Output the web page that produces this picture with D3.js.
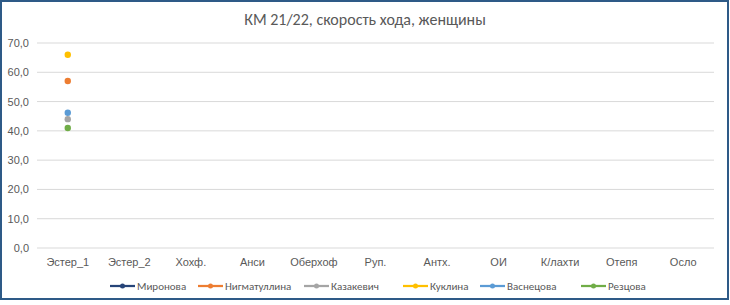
<!DOCTYPE html>
<html>
<head>
<meta charset="utf-8">
<script src="https://cdn.jsdelivr.net/npm/d3@7"></script>
<style>
  body { margin: 0; background: #fff; }
  svg { display: block; font-family: Calibri, Carlito, "Liberation Sans", "DejaVu Sans", sans-serif; }
</style>
</head>
<body>
<svg id="drawing_region"></svg>
<script>
const categories = ["Эстер_1", "Эстер_2", "Хохф.", "Анси", "Оберхоф", "Руп.", "Антх.", "ОИ", "К/лахти", "Отепя", "Осло"];
const seriesNames = ["Миронова", "Нигматуллина", "Казакевич", "Куклина", "Васнецова", "Резцова"];
const seriesColors = ["#264478", "#ED7D31", "#A5A5A5", "#FFC000", "#5B9BD5", "#70AD47"];
const mironova     = [null, null, null, null, null, null, null, null, null, null, null];
const nigmatullina = [57.0, null, null, null, null, null, null, null, null, null, null];
const kazakevich   = [44.0, null, null, null, null, null, null, null, null, null, null];
const kuklina      = [66.0, null, null, null, null, null, null, null, null, null, null];
const vasnetsova   = [46.2, null, null, null, null, null, null, null, null, null, null];
const reztsova     = [41.0, null, null, null, null, null, null, null, null, null, null];
const yTicks = [0, 10, 20, 30, 40, 50, 60, 70];

const seriesValues = [mironova, nigmatullina, kazakevich, kuklina, vasnetsova, reztsova];

const config = {
    width: 730,
    height: 305,
    margin: {top: 43, right: 16, bottom: 57, left: 37}
};

const svg = d3.select('#drawing_region')
    .attr('width', config.width)
    .attr('height', config.height);

// chart frame
svg.append('rect')
    .attr('x', 1).attr('y', 1)
    .attr('width', 727).attr('height', 298)
    .attr('fill', '#fff')
    .attr('stroke', '#2E5A87')
    .attr('stroke-width', 2);

const innerW = config.width - config.margin.left - config.margin.right;
const innerH = config.height - config.margin.top - config.margin.bottom;

const g = svg.append('g')
    .attr('transform', `translate(${config.margin.left}, ${config.margin.top})`);

const x = d3.scaleBand()
    .domain(categories)
    .range([0, innerW]);

const y = d3.scaleLinear()
    .domain([0, 70])
    .range([innerH, 0]);

const fmt = d => d3.format('.1f')(d).replace('.', ',');

// gridlines
g.selectAll('.grid')
    .data(yTicks)
    .enter()
    .append('line')
    .attr('x1', 0).attr('x2', innerW)
    .attr('y1', d => y(d)).attr('y2', d => y(d))
    .attr('stroke', '#D9D9D9')
    .attr('stroke-width', 1);

// y axis labels
const yAxis = g.append('g')
    .call(d3.axisLeft(y).tickValues(yTicks).tickFormat(fmt).tickSize(0).tickPadding(8));
yAxis.select('.domain').remove();
yAxis.selectAll('text')
    .attr('fill', '#595959')
    .style('font-size', '11px');

// x axis labels
const xAxis = g.append('g')
    .attr('transform', `translate(0, ${innerH})`)
    .call(d3.axisBottom(x).tickSize(0).tickPadding(10));
xAxis.select('.domain').remove();
xAxis.selectAll('text')
    .attr('fill', '#595959')
    .style('font-size', '11px');

// points
seriesValues.forEach((vals, i) => {
    const pts = vals.map((v, j) => ({cat: categories[j], v: v})).filter(d => d.v != null);
    const line = d3.line()
        .defined(d => d.v != null)
        .x(d => x(d.cat) + x.bandwidth() / 2)
        .y(d => y(d.v));
    g.append('path')
        .datum(vals.map((v, j) => ({cat: categories[j], v: v})))
        .attr('fill', 'none')
        .attr('stroke', seriesColors[i])
        .attr('stroke-width', 2.25)
        .attr('d', line);
    g.selectAll('.pt' + i)
        .data(pts)
        .enter()
        .append('circle')
        .attr('cx', d => x(d.cat) + x.bandwidth() / 2)
        .attr('cy', d => y(d.v))
        .attr('r', 3.2)
        .attr('fill', seriesColors[i]);
});

// title
svg.append('text')
    .attr('x', config.width / 2)
    .attr('y', 25)
    .attr('text-anchor', 'middle')
    .attr('fill', '#595959')
    .style('font-size', '16px')
    .text('КМ 21/22, скорость хода, женщины');

// legend
const legendX = [110, 198, 304, 403, 480, 581];
const legend = svg.selectAll('.legend')
    .data(seriesNames)
    .enter()
    .append('g')
    .attr('transform', (d, i) => `translate(${legendX[i]}, 286)`);
legend.append('line')
    .attr('x1', 0).attr('x2', 25)
    .attr('stroke', (d, i) => seriesColors[i])
    .attr('stroke-width', 2.25);
legend.append('circle')
    .attr('cx', 12.5).attr('r', 2.5)
    .attr('fill', (d, i) => seriesColors[i]);
legend.append('text')
    .attr('x', 27)
    .attr('dy', '0.35em')
    .attr('fill', '#595959')
    .style('font-size', '11px')
    .text(d => d);
</script>
</body>
</html>
